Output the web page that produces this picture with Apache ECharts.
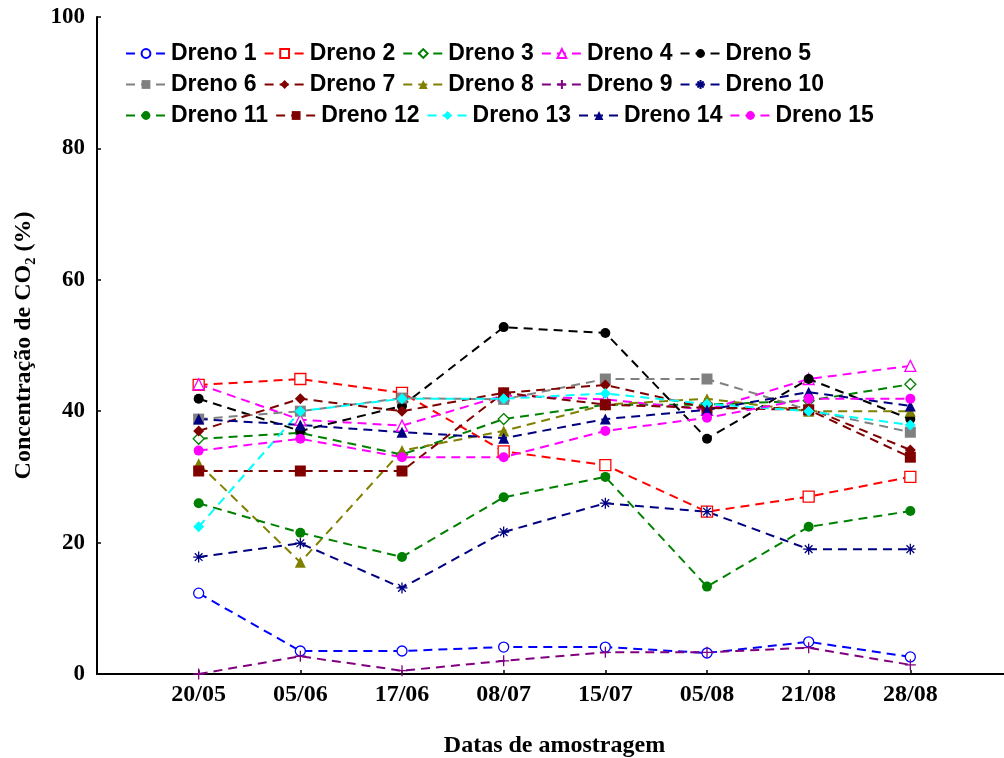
<!DOCTYPE html>
<html>
<head>
<meta charset="utf-8">
<script src="https://cdn.jsdelivr.net/npm/echarts@6/dist/echarts.min.js"></script>
<style>
  html, body { margin: 0; padding: 0; overflow: hidden; background: #fff; }
  #main { width: 1012px; height: 758px; }
</style>
</head>
<body>
<div id="main"></div>
<script>
// datas de amostragem
var datas = ['20/05', '05/06', '17/06', '08/07', '15/07', '05/08', '21/08', '28/08']

var dreno1 = [12.3, 3.5, 3.5, 4.1, 4.1, 3.2, 4.9, 2.6]
var dreno2 = [44.0, 44.9, 42.8, 33.9, 31.8, 24.7, 27.0, 30.0]
var dreno3 = [35.8, 36.7, 33.4, 38.8, 41.0, 41.0, 41.6, 44.1]
var dreno4 = [44.1, 38.7, 37.8, 42.4, 41.8, 40.2, 44.9, 46.9]
var dreno5 = [41.9, 37.0, 40.8, 52.8, 51.9, 35.8, 44.9, 38.8]
var dreno6 = [38.8, 40.0, 42.0, 41.8, 44.9, 44.9, 40.2, 36.8]
var dreno7 = [37.0, 41.9, 40.0, 42.8, 44.0, 40.5, 40.5, 34.1]
var dreno8 = [32.0, 17.0, 34.0, 37.0, 41.0, 41.9, 40.0, 40.0]
var dreno9 = [0.0, 2.7, 0.5, 2.0, 3.3, 3.3, 4.0, 1.4]
var dreno10 = [17.8, 19.9, 13.1, 21.6, 26.0, 24.7, 19.0, 19.0]
var dreno11 = [26.0, 21.5, 17.8, 26.9, 30.0, 13.3, 22.4, 24.8]
var dreno12 = [30.9, 30.9, 30.9, 42.8, 41.0, 40.5, 40.2, 33.0]
var dreno13 = [22.4, 40.0, 41.9, 41.9, 42.7, 41.1, 40.0, 37.9]
var dreno14 = [38.8, 37.9, 36.8, 35.9, 38.8, 40.2, 42.9, 40.8]
var dreno15 = [34.0, 35.8, 33.0, 33.0, 37.0, 39.0, 41.9, 41.9]

var plus = 'path://M5,0L5,10M0,5L10,5'
var asterisco = 'path://M5,0L5,10M0,5L10,5M1.5,1.5L8.5,8.5M8.5,1.5L1.5,8.5'

// [nome, valores, cor, simbolo, vazado]
var series = [
  ['Dreno 1', dreno1, '#0000ff', 'circle', true],
  ['Dreno 2', dreno2, '#ff0000', 'rect', true],
  ['Dreno 3', dreno3, '#008000', 'diamond', true],
  ['Dreno 4', dreno4, '#ff00ff', 'triangle', true],
  ['Dreno 5', dreno5, '#000000', 'circle', false],
  ['Dreno 6', dreno6, '#808080', 'rect', false],
  ['Dreno 7', dreno7, '#800000', 'diamond', false],
  ['Dreno 8', dreno8, '#808000', 'triangle', false],
  ['Dreno 9', dreno9, '#800080', plus, false],
  ['Dreno 10', dreno10, '#000080', asterisco, false],
  ['Dreno 11', dreno11, '#008000', 'circle', false],
  ['Dreno 12', dreno12, '#800000', 'rect', false],
  ['Dreno 13', dreno13, '#00ffff', 'diamond', false],
  ['Dreno 14', dreno14, '#000080', 'triangle', false],
  ['Dreno 15', dreno15, '#ff00ff', 'circle', false]
]

var serif = '"Liberation Serif", "Times New Roman", serif'
var legendText = { fontFamily: '"Liberation Sans", Arial, sans-serif', fontWeight: 'bold', fontSize: 23, color: '#000' }

function legenda(top, nomes) {
  return {
    top: top,
    left: 120,
    itemWidth: 40,
    itemHeight: 11,
    itemGap: 7,
    textStyle: legendText,
    data: nomes
  }
}

var myChart = echarts.init(document.getElementById('main'))
myChart.setOption({
  animation: false,
  legend: [
    legenda(37, series.slice(0, 5).map((s) => s[0])),
    legenda(68, series.slice(5, 10).map((s) => s[0])),
    legenda(99, series.slice(10, 15).map((s) => s[0]))
  ],
  grid: { left: 97, right: 0, top: 17, bottom: 84, outerBoundsMode: 'none', containLabel: false },
  xAxis: {
    type: 'value',
    min: 0,
    max: 9,
    interval: 1,
    name: 'Datas de amostragem',
    nameLocation: 'middle',
    nameGap: 60,
    nameTextStyle: { fontFamily: serif, fontWeight: 'bold', fontSize: 24, color: '#000' },
    axisLine: { lineStyle: { color: '#000', width: 2 } },
    axisTick: { inside: true, length: 4, lineStyle: { color: '#000', width: 1.5 } },
    axisLabel: {
      margin: 9,
      fontFamily: serif, fontWeight: 'bold', fontSize: 24, color: '#000',
      formatter: (v) => (v >= 1 && v <= 8 ? datas[v - 1] : '')
    },
    splitLine: { show: false }
  },
  yAxis: {
    type: 'value',
    min: 0,
    max: 100,
    interval: 20,
    name: 'Concentração de CO₂ (%)',
    nameLocation: 'middle',
    nameGap: 61,
    nameTextStyle: { fontFamily: serif, fontWeight: 'bold', fontSize: 24, color: '#000' },
    axisLine: { show: true, lineStyle: { color: '#000', width: 2 } },
    axisTick: { show: true, inside: true, length: 4, lineStyle: { color: '#000', width: 1.5 } },
    axisLabel: { margin: 12, fontFamily: serif, fontWeight: 'bold', fontSize: 23, color: '#000' },
    splitLine: { show: false }
  },
  series: series.map((s) => {
    var linha = s[3] === plus || s[3] === asterisco
    return {
      name: s[0],
      type: 'line',
      data: s[1].map((v, i) => [i + 1, v]),
      symbol: s[3],
      symbolSize: linha ? 11 : (s[3] === 'circle' ? 10 : 11),
      showAllSymbol: true,
      color: s[2],
      lineStyle: { color: s[2], width: 2, type: [9, 6] },
      itemStyle: {
        color: s[4] ? '#fff' : s[2],
        borderColor: s[2],
        borderWidth: s[4] || linha ? 1.3 : 0
      },
      emphasis: { disabled: true }
    }
  })
})
</script>
</body>
</html>
